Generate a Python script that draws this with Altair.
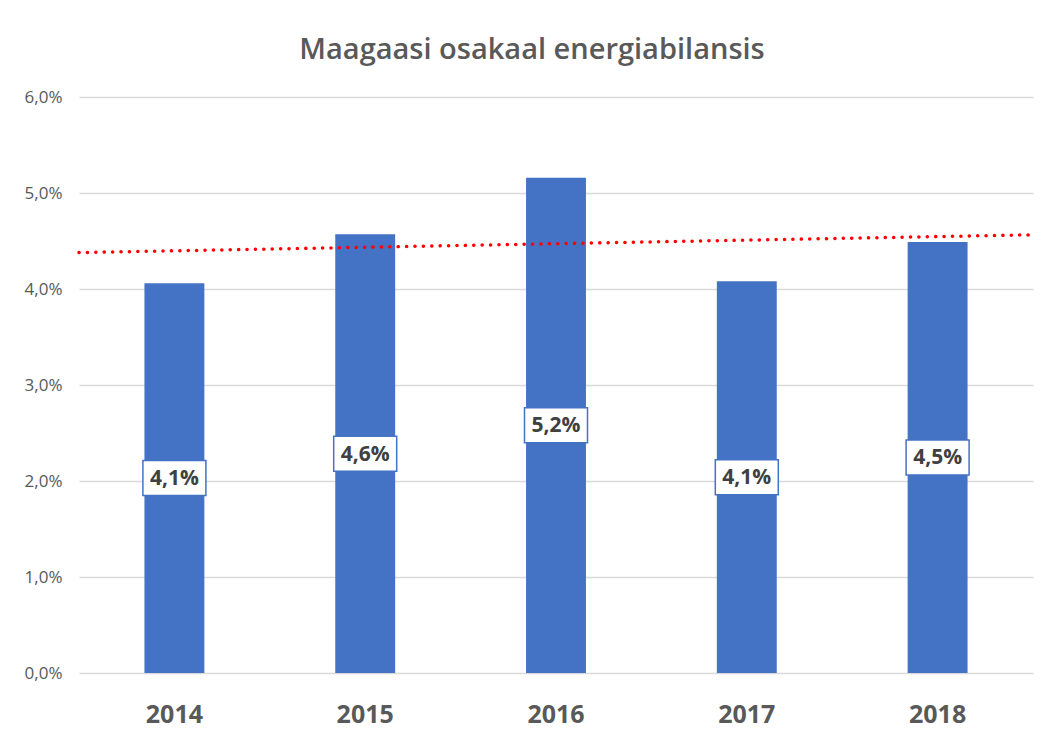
import altair as alt
import pandas as pd

# Data
years = ["2014", "2015", "2016", "2017", "2018"]
year_index = [1, 2, 3, 4, 5]
shares = [0.0406, 0.0457, 0.0516, 0.0408, 0.0449]
labels = ["4,1%", "4,6%", "5,2%", "4,1%", "4,5%"]
y_ticks = [0.0, 0.01, 0.02, 0.03, 0.04, 0.05, 0.06]

df = pd.DataFrame({"year": years, "idx": year_index, "value": shares, "label": labels})

BLUE = "#4472c4"
GRAY = "#595959"
FONT = "Open Sans"

x_band = alt.X(
    "year:N",
    sort=years,
    scale=alt.Scale(paddingInner=0.686, paddingOuter=0.343),
    axis=alt.Axis(
        title=None, labelAngle=0, labelFont=FONT, labelFontSize=25,
        labelFontWeight="bold", labelColor=GRAY, labelPadding=29,
        ticks=False, domain=False, grid=False,
    ),
)
y_scale = alt.Scale(domain=[0, 0.06], nice=False)

base = alt.Chart(df)

bars = base.mark_bar(color=BLUE).encode(
    x=x_band,
    y=alt.Y(
        "value:Q", scale=y_scale,
        axis=alt.Axis(
            title=None, values=y_ticks,
            labelExpr="replace(format(datum.value, '.1%'), '.', ',')",
            labelFont=FONT, labelFontSize=17, labelColor=GRAY, labelPadding=17,
            ticks=False, domain=False, grid=True, gridColor="#d9d9d9", gridWidth=1.5,
        ),
    ),
)

box_path = "M-1.8,-1L1.8,-1L1.8,1L-1.8,1Z"
boxes = base.transform_calculate(half="datum.value / 2").mark_point(
    shape=box_path, size=1225, filled=True, fill="white", stroke=BLUE,
    strokeWidth=1.5, opacity=1,
).encode(
    x=alt.X("year:N", sort=years),
    y=alt.Y("half:Q", scale=y_scale),
)

texts = base.transform_calculate(half="datum.value / 2").mark_text(
    font=FONT, fontSize=21, fontWeight="bold", color="#404040", baseline="middle", dy=1,
).encode(
    x=alt.X("year:N", sort=years),
    y=alt.Y("half:Q", scale=y_scale),
    text="label:N",
)

trend = base.transform_regression(
    "idx", "value", method="linear", extent=[0.5, 5.5]
).mark_line(
    color="#ff0000", strokeWidth=3.5, strokeDash=[0.1, 8.3], strokeCap="round",
).encode(
    x=alt.X("idx:Q", scale=alt.Scale(domain=[0.5, 5.5], nice=False, zero=False), axis=None),
    y=alt.Y("value:Q", scale=y_scale),
)

bar_layer = alt.layer(bars, boxes, texts)

chart = alt.layer(bar_layer, trend).resolve_scale(x="independent").properties(
    width=954,
    height=576,
    title=alt.TitleParams(
        "Maagaasi osakaal energiabilansis", font=FONT, fontSize=29,
        fontWeight=600, color=GRAY, anchor="middle", offset=23, dx=-24,
    ),
    padding={"left": 71, "top": 89, "right": 6, "bottom": 62},
    autosize="none",
).configure_view(stroke=None)

chart.save("out.html", embed_options={"renderer": "svg", "actions": False})
